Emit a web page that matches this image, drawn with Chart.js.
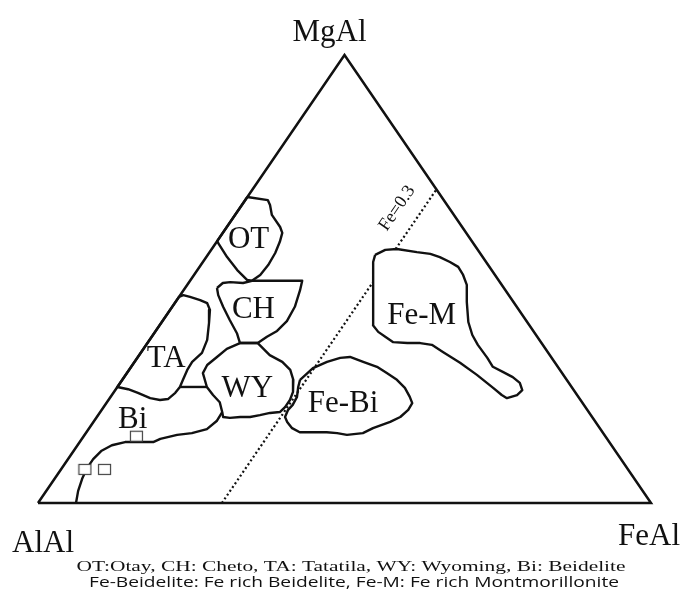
<!DOCTYPE html>
<html>
<head>
<meta charset="utf-8">
<title>MgAl - AlAl - FeAl ternary diagram</title>
<script src="https://cdn.jsdelivr.net/npm/chart.js@4.4.1/dist/chart.umd.min.js"></script>
<style>
  html, body { margin: 0; padding: 0; background: #fff; }
  #wrap { width: 681px; height: 591px; position: relative; }
</style>
</head>
<body>
<div id="wrap"><canvas id="ternary"></canvas></div>
<script>
// Compositions are [Fe %, Mg %]; Al % is whatever is left.
const vertexNames = ['AlAl', 'FeAl', 'MgAl'];
const triangle = [[0, 0], [100, 0], [0, 100], [0, 0]];

const otOutline = [[0, 68.3], [3.7, 67.6], [4.6, 66.5], [6.0, 64.3], [8.7, 61.6], [9.7, 60.3], [10.3, 58.3], [10.8, 55.8],
  [11.0, 53.1], [10.8, 50.9], [10.1, 49.6], [9.2, 49.8], [6.5, 52.0], [3.4, 54.9], [0.4, 58.0], [0, 58.5], [0, 68.3]];
const chOutline = [[5.2, 48.0], [5.6, 49.1], [6.7, 49.3], [8.9, 49.1], [10.1, 49.6], [18.3, 49.6], [19.0, 47.5], [20.0, 43.8],
  [20.3, 40.6], [19.8, 38.4], [18.8, 37.1], [18.0, 35.7], [15.1, 35.7], [13.5, 37.9], [10.9, 40.8], [8.3, 43.8], [6.2, 46.4], [5.2, 48.0]];
const wyOutline = [[15.1, 35.7], [18.0, 35.7], [21.3, 33.0], [24.1, 31.5], [26.3, 29.7], [27.9, 27.5], [29.2, 24.8], [29.6, 23.0],
  [29.6, 21.4], [29.3, 20.3], [27.8, 20.1], [26.4, 19.6], [25.0, 19.2], [23.4, 19.2], [21.8, 19.0], [20.6, 19.2], [19.9, 20.3],
  [18.4, 22.5], [16.5, 24.1], [14.6, 25.9], [12.4, 29.0], [12.2, 30.8], [12.9, 32.6], [13.6, 34.4], [15.1, 35.7]];
const taOutline = [[0, 46.0], [0.5, 46.4], [1.8, 46.0], [3.8, 45.3], [5.3, 44.6], [6.5, 43.1], [7.8, 40.2], [9.4, 36.4],
  [10.0, 33.5], [9.4, 31.5], [9.5, 29.7], [9.9, 27.5], [10.2, 25.9], [10.1, 24.6], [9.6, 23.2], [8.4, 23.0], [6.6, 23.4],
  [4.0, 24.6], [2.0, 25.4], [0, 25.9], [0, 46.0]];
const taJoin = [[10.2, 25.9], [14.6, 25.9]];
const biBoundary = [[19.9, 20.3], [20.0, 18.3], [19.3, 16.5], [17.3, 15.6], [15.1, 15.2], [12.8, 14.3], [12.0, 13.6], [7.4, 13.6],
  [5.6, 12.9], [4.5, 11.6], [4.1, 9.8], [4.1, 7.8], [4.5, 5.4], [5.2, 2.7], [6.2, 0]];
const feBiOutline = [[29.0, 27.5], [29.8, 30.1], [31.4, 31.5], [33.1, 32.4], [34.6, 32.6], [37.3, 31.5], [40.1, 30.4], [42.4, 29.0],
  [44.8, 27.5], [47.0, 25.7], [48.8, 23.7], [49.9, 22.3], [50.0, 20.8], [49.5, 19.2], [48.4, 18.1], [46.3, 16.7], [45.2, 15.6],
  [42.8, 15.2], [41.0, 15.6], [39.2, 15.8], [37.0, 15.8], [34.8, 15.8], [33.1, 16.7], [31.6, 18.1], [30.7, 19.2], [30.4, 20.8],
  [30.6, 21.9], [30.4, 23.7], [29.5, 25.9], [29.0, 27.5]];
const feMOutline = [[27.3, 55.4], [28.4, 56.5], [30.2, 56.7], [33.8, 56.0], [36.2, 55.6], [38.1, 54.9], [40.3, 53.8], [42.2, 52.7],
  [43.9, 50.9], [45.6, 48.7], [47.5, 44.9], [50.0, 40.4], [52.1, 37.5], [54.1, 35.3], [57.1, 32.4], [59.0, 30.4], [61.3, 29.2],
  [63.4, 28.1], [65.2, 26.8], [66.4, 25.2], [66.1, 24.1], [64.8, 23.4], [63.6, 24.1], [61.4, 25.7], [57.3, 28.6], [53.2, 31.3],
  [49.2, 33.7], [46.6, 35.3], [44.5, 35.7], [42.4, 35.7], [40.0, 35.9], [38.1, 37.1], [36.4, 38.2], [34.8, 39.7], [33.4, 42.6],
  [31.1, 47.1], [29.2, 50.9], [27.8, 53.8], [27.3, 55.4]];

// Fe = 0.3 line, broken where it passes under the Fe-M field
const fe03Lower = [[30, 0], [30, 49.3]];
const fe03Upper = [[30, 56.7], [30, 70]];
const fe03Text = 'Fe=0.3';
const fe03TextAt = [25.7, 65.8];

const samples = [[8.6, 14.9], [3.9, 7.5], [7.1, 7.5]];

const regionNames = ['OT', 'CH', 'TA', 'WY', 'Bi', 'Fe-Bi', 'Fe-M'];
const regionFe = [5.9, 14.5, 5.7, 22.3, 7.1, 39.6, 42.6];
const regionMg = [56.9, 41.3, 30.4, 23.7, 16.7, 20.3, 40.0];

const captionLines = [
  'OT:Otay, CH: Cheto, TA: Tatatila, WY: Wyoming, Bi: Beidelite',
  'Fe-Beidelite: Fe rich Beidelite, Fe-M: Fe rich Montmorillonite'
];

// ternary -> plot coordinates (Al at left, Fe at right, Mg on top)
const toXY = p => ({ x: p[0] + p[1] / 2, y: p[1] });

const INK = '#111';

function outline(label, pts, extra) {
  return Object.assign({
    label, data: pts.map(toXY), showLine: true, borderColor: INK, borderWidth: 2.4,
    pointRadius: 0, fill: false, tension: 0, clip: false, borderJoinStyle: 'round'
  }, extra || {});
}

// small open square used for the sample markers
const sq = document.createElement('canvas');
sq.width = 15; sq.height = 13;
(function () {
  const c = sq.getContext('2d');
  c.fillStyle = '#fff';
  c.fillRect(1, 1, 13, 11);
  c.strokeStyle = '#444';
  c.lineWidth = 1.2;
  c.strokeRect(1.5, 1.5, 12, 10);
})();

function fitText(ctx, txt, cx, by, font, width) {
  ctx.save();
  ctx.font = font;
  const m = ctx.measureText(txt).width;
  ctx.translate(cx, by);
  ctx.scale(width / m, 1);
  ctx.textAlign = 'center';
  ctx.textBaseline = 'alphabetic';
  ctx.fillText(txt, 0, 0);
  ctx.restore();
}

const textPlugin = {
  id: 'ternaryText',
  afterDraw(chart) {
    const { ctx, scales: { x, y } } = chart;
    const px = p => { const q = toXY(p); return [x.getPixelForValue(q.x), y.getPixelForValue(q.y)]; };
    ctx.save();
    ctx.fillStyle = INK;
    ctx.textAlign = 'center';
    ctx.textBaseline = 'alphabetic';
    ctx.font = '31px "Liberation Serif", "Times New Roman", serif';

    // vertex names
    const al = px([0, 0]), fe = px([100, 0]), mg = px([0, 100]);
    ctx.fillText(vertexNames[2], mg[0] - 15, mg[1] - 14);
    ctx.fillText(vertexNames[0], al[0] + 5, al[1] + 49);
    ctx.fillText(vertexNames[1], fe[0] - 2, fe[1] + 42);

    // field names
    regionNames.forEach((n, i) => {
      const p = px([regionFe[i], regionMg[i]]);
      ctx.fillText(n, p[0], p[1]);
    });

    // Fe = 0.3 label along the dotted line
    const a = px(fe03Lower[0]), b = px(fe03Upper[1]);
    const ang = Math.atan2(b[1] - a[1], b[0] - a[0]);
    const t = px(fe03TextAt);
    ctx.save();
    ctx.translate(t[0], t[1]);
    ctx.rotate(ang);
    ctx.font = '18px "Liberation Serif", "Times New Roman", serif';
    ctx.textBaseline = 'middle';
    ctx.fillText(fe03Text, 0, 0);
    ctx.restore();
    ctx.restore();

    // caption under the diagram
    ctx.save();
    ctx.fillStyle = INK;
    fitText(ctx, captionLines[0], 351, 571, '15px "Liberation Serif", "Times New Roman", serif', 549);
    fitText(ctx, captionLines[1], 354, 587, '15px "Open Sans", sans-serif', 530);
    ctx.restore();
  }
};

new Chart(document.getElementById('ternary'), {
  type: 'scatter',
  data: {
    datasets: [
      { label: 'samples', data: samples.map(toXY), showLine: false, pointStyle: sq, pointRadius: 7, clip: false },
      outline('triangle', triangle, { borderWidth: 2.5, borderJoinStyle: 'miter' }),
      outline('OT', otOutline),
      outline('CH', chOutline),
      outline('TA', taOutline),
      outline('TA-join', taJoin),
      outline('WY', wyOutline),
      outline('Bi', biBoundary),
      outline('Fe-Bi', feBiOutline),
      outline('Fe-M', feMOutline),
      outline('Fe=0.3 a', fe03Lower, { borderWidth: 2.2, borderDash: [2, 2.6] }),
      outline('Fe=0.3 b', fe03Upper, { borderWidth: 2.2, borderDash: [2, 2.6] })
    ]
  },
  options: {
    responsive: true,
    maintainAspectRatio: false,
    animation: false,
    layout: { padding: { left: 38, right: 30, top: 55, bottom: 88 } },
    scales: {
      x: { type: 'linear', min: 0, max: 100, display: false },
      y: { type: 'linear', min: 0, max: 100, display: false }
    },
    plugins: { legend: { display: false }, tooltip: { enabled: false } }
  },
  plugins: [textPlugin]
});
</script>
</body>
</html>
